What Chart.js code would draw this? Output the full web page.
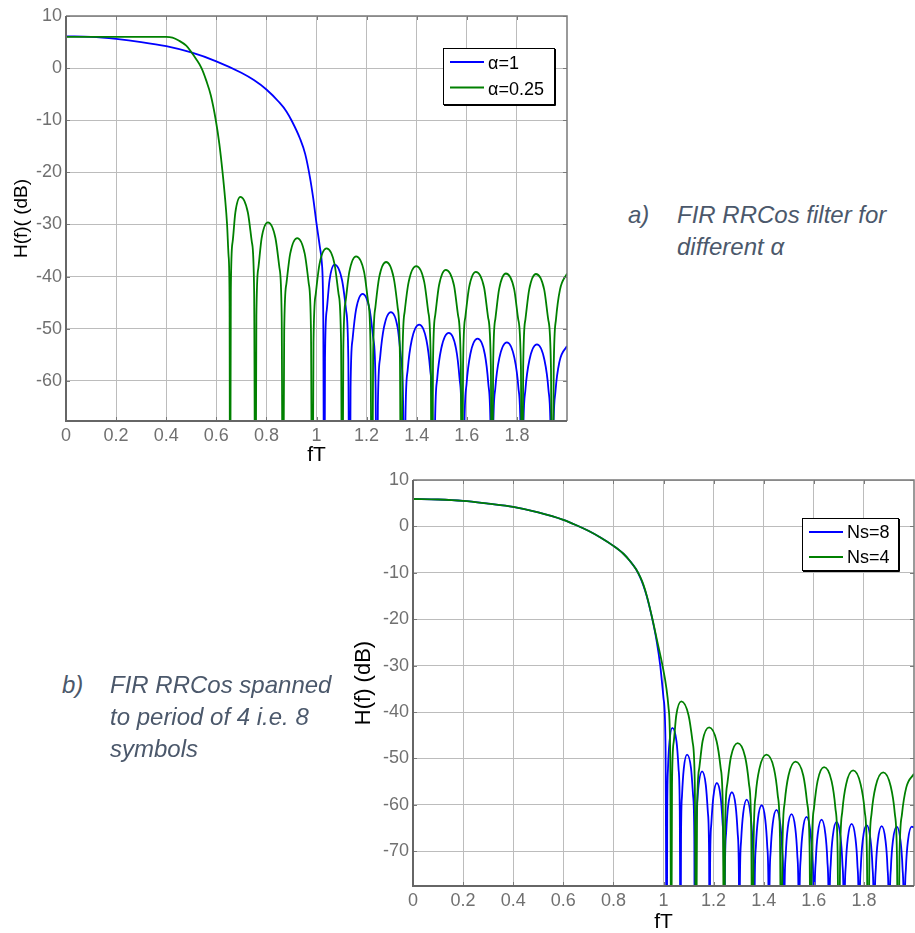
<!DOCTYPE html>
<html>
<head>
<meta charset="utf-8">
<script src="https://cdn.jsdelivr.net/npm/chart.js@4.4.1/dist/chart.umd.min.js"></script>
<style>
body { margin:0; background:#fff; width:915px; height:933px; position:relative; overflow:hidden; font-family:"Liberation Sans", Arial, sans-serif; }
canvas { position:absolute; }
#c1 { left:0; top:0; }
#c2 { left:330px; top:460px; }
.cap { position:absolute; font-style:italic; font-size:24px; line-height:32px; color:#4b586b; white-space:nowrap; }
</style>
</head>
<body>
<canvas id="c1" width="580" height="470"></canvas>
<canvas id="c2" width="585" height="473"></canvas>
<div class="cap" style="left:628px; top:199px">a)</div>
<div class="cap" style="left:677px; top:199px">FIR RRCos filter for<br>different α</div>
<div class="cap" style="left:62px; top:669px">b)</div>
<div class="cap" style="left:110px; top:669px">FIR RRCos spanned<br>to period of 4 i.e. 8<br>symbols</div>
<script>
// tick values
var xTicks = [0, 0.2, 0.4, 0.6, 0.8, 1, 1.2, 1.4, 1.6, 1.8];
var yTicksA = [10, 0, -10, -20, -30, -40, -50, -60];
var yTicksB = [10, 0, -10, -20, -30, -40, -50, -60, -70];
var namesA = ['α=1', 'α=0.25'];
var namesB = ['Ns=8', 'Ns=4'];

// [fT, dB], -100 = null (below the axis)
var alpha1 = [
  [0,6.1],[0.1,6.0],[0.2,5.6],[0.3,5.0],[0.4,4.2],[0.5,3.0],[0.6,1.3],[0.7,-0.9],[0.75,-2.3],[0.8,-4.1],
  [0.85,-6.5],[0.88,-8.3],[0.9,-10.0],[0.934,-13.5],[0.955,-16.5],[0.974,-21],[0.987,-25],[1.0,-29.8],
  [1.014,-34.5],[1.021,-37.2],[1.027,-48],[1.031,-100],
  [1.034,-55.7],[1.041,-46.4],[1.052,-40.7],[1.072,-37.7],[1.102,-40.7],[1.118,-46.4],[1.127,-55.7],[1.132,-100],
  [1.136,-61.3],[1.144,-52],[1.158,-46.3],[1.184,-43.3],[1.212,-46.3],[1.227,-52],[1.236,-61.3],[1.24,-100],
  [1.245,-64.8],[1.254,-55.5],[1.269,-49.8],[1.297,-46.8],[1.324,-49.8],[1.337,-55.5],[1.346,-64.8],[1.35,-100],
  [1.355,-67.2],[1.364,-57.9],[1.38,-52.2],[1.41,-49.2],[1.439,-52.2],[1.454,-57.9],[1.463,-67.2],[1.468,-100],
  [1.473,-68.8],[1.482,-59.5],[1.498,-53.8],[1.528,-50.8],[1.557,-53.8],[1.571,-59.5],[1.58,-68.8],[1.585,-100],
  [1.59,-69.9],[1.599,-60.6],[1.614,-54.9],[1.643,-51.9],[1.672,-54.9],[1.686,-60.6],[1.695,-69.9],[1.7,-100],
  [1.705,-70.6],[1.714,-61.3],[1.73,-55.6],[1.76,-52.6],[1.79,-55.6],[1.806,-61.3],[1.815,-70.6],[1.82,-100],
  [1.825,-71],[1.834,-61.7],[1.85,-56],[1.88,-53],[1.91,-56],[1.926,-61.7],[1.935,-71],[1.94,-100],
  [1.945,-71.3],[1.954,-62],[1.97,-56.3],[2.0,-53.3]
];
var alpha025 = [
  [0,6.0],[0.1,6.0],[0.2,6.0],[0.3,6.0],[0.4,6.0],[0.425,5.85],[0.45,5.3],[0.48,4.3],[0.5,3.1],[0.52,1.7],
  [0.541,0],[0.56,-2.4],[0.578,-5.2],[0.598,-10],[0.612,-14.5],[0.625,-20],[0.635,-25],[0.643,-30],
  [0.649,-36],[0.653,-45],[0.655,-100],
  [0.658,-42.7],[0.665,-33.4],[0.676,-27.7],[0.696,-24.7],[0.726,-27.7],[0.742,-33.4],[0.751,-42.7],[0.756,-100],
  [0.76,-47.6],[0.768,-38.3],[0.781,-32.6],[0.806,-29.6],[0.836,-32.6],[0.852,-38.3],[0.861,-47.6],[0.866,-100],
  [0.871,-50.6],[0.88,-41.3],[0.895,-35.6],[0.923,-32.6],[0.953,-35.6],[0.969,-41.3],[0.978,-50.6],[0.983,-100],
  [0.988,-52.6],[0.997,-43.3],[1.012,-37.6],[1.04,-34.6],[1.072,-37.6],[1.088,-43.3],[1.098,-52.6],[1.103,-100],
  [1.107,-54.1],[1.116,-44.8],[1.131,-39.1],[1.158,-36.1],[1.19,-39.1],[1.206,-44.8],[1.216,-54.1],[1.221,-100],
  [1.226,-55.2],[1.235,-45.9],[1.25,-40.2],[1.278,-37.2],[1.308,-40.2],[1.324,-45.9],[1.333,-55.2],[1.338,-100],
  [1.343,-56],[1.352,-46.7],[1.368,-41],[1.398,-38],[1.43,-41],[1.446,-46.7],[1.456,-56],[1.461,-100],
  [1.465,-56.7],[1.474,-47.4],[1.489,-41.7],[1.516,-38.7],[1.549,-41.7],[1.565,-47.4],[1.576,-56.7],[1.581,-100],
  [1.585,-57.1],[1.594,-47.8],[1.609,-42.1],[1.636,-39.1],[1.669,-42.1],[1.685,-47.8],[1.696,-57.1],[1.701,-100],
  [1.705,-57.4],[1.714,-48.1],[1.729,-42.4],[1.756,-39.4],[1.789,-42.4],[1.805,-48.1],[1.816,-57.4],[1.821,-100],
  [1.825,-57.5],[1.834,-48.2],[1.849,-42.5],[1.876,-39.5],[1.909,-42.5],[1.925,-48.2],[1.936,-57.5],[1.941,-100],
  [1.947,-57.5],[1.956,-48.2],[1.972,-42.5],[2.0,-39.4]
];
var ns8 = [
  [0,5.9],[0.1,5.8],[0.2,5.5],[0.3,4.9],[0.4,4.2],[0.5,3.0],[0.6,1.4],[0.65,0.3],[0.7,-0.95],[0.75,-2.45],
  [0.8,-4.2],[0.84,-5.9],[0.867,-7.5],[0.89,-9.2],[0.907,-11.0],[0.92,-12.8],[0.933,-15.0],[0.953,-19.4],
  [0.972,-24.5],[0.987,-30],[1.0,-37],[1.008,-47],[1.013,-100],
  [1.015,-61.4],[1.018,-52.1],[1.024,-46.4],[1.035,-43.4],[1.052,-46.4],[1.06,-52.1],[1.065,-61.4],[1.068,-100],
  [1.07,-67.2],[1.074,-57.9],[1.081,-52.2],[1.094,-49.2],[1.11,-52.2],[1.118,-57.9],[1.123,-67.2],[1.125,-100],
  [1.127,-70.8],[1.132,-61.5],[1.14,-55.8],[1.154,-52.8],[1.169,-55.8],[1.177,-61.5],[1.182,-70.8],[1.184,-100],
  [1.186,-73.3],[1.191,-64],[1.199,-58.3],[1.213,-55.3],[1.228,-58.3],[1.236,-64],[1.241,-73.3],[1.243,-100],
  [1.245,-75.3],[1.25,-66],[1.258,-60.3],[1.273,-57.3],[1.288,-60.3],[1.296,-66],[1.301,-75.3],[1.303,-100],
  [1.305,-76.9],[1.31,-67.6],[1.318,-61.9],[1.332,-58.9],[1.347,-61.9],[1.355,-67.6],[1.36,-76.9],[1.362,-100],
  [1.364,-78.1],[1.369,-68.8],[1.377,-63.1],[1.392,-60.1],[1.406,-63.1],[1.414,-68.8],[1.419,-78.1],[1.421,-100],
  [1.423,-79.1],[1.428,-69.8],[1.436,-64.1],[1.451,-61.1],[1.466,-64.1],[1.474,-69.8],[1.479,-79.1],[1.481,-100],
  [1.483,-80],[1.488,-70.7],[1.496,-65],[1.511,-62],[1.526,-65],[1.534,-70.7],[1.539,-80],[1.541,-100],
  [1.543,-80.6],[1.548,-71.3],[1.556,-65.6],[1.571,-62.6],[1.586,-65.6],[1.594,-71.3],[1.599,-80.6],[1.601,-100],
  [1.603,-81.2],[1.608,-71.9],[1.616,-66.2],[1.631,-63.2],[1.646,-66.2],[1.654,-71.9],[1.659,-81.2],[1.661,-100],
  [1.663,-81.7],[1.668,-72.4],[1.676,-66.7],[1.691,-63.7],[1.706,-66.7],[1.714,-72.4],[1.719,-81.7],[1.721,-100],
  [1.723,-82.1],[1.728,-72.8],[1.736,-67.1],[1.751,-64.1],[1.766,-67.1],[1.774,-72.8],[1.779,-82.1],[1.781,-100],
  [1.783,-82.4],[1.788,-73.1],[1.796,-67.4],[1.811,-64.4],[1.826,-67.4],[1.834,-73.1],[1.839,-82.4],[1.841,-100],
  [1.843,-82.6],[1.848,-73.3],[1.856,-67.6],[1.871,-64.6],[1.886,-67.6],[1.894,-73.3],[1.899,-82.6],[1.901,-100],
  [1.903,-82.7],[1.908,-73.4],[1.916,-67.7],[1.931,-64.7],[1.946,-67.7],[1.954,-73.4],[1.959,-82.7],[1.961,-100],
  [1.963,-82.7],[1.968,-73.4],[1.976,-67.7],[1.991,-64.7],[2.0,-64.9]
];
var ns4 = [
  [0,5.9],[0.1,5.8],[0.2,5.5],[0.3,4.9],[0.4,4.2],[0.5,3.0],[0.6,1.4],[0.65,0.3],[0.7,-0.95],[0.75,-2.45],
  [0.8,-4.2],[0.84,-5.9],[0.867,-7.5],[0.89,-9.2],[0.907,-10.9],[0.92,-12.6],[0.935,-15.3],[0.956,-20],
  [0.976,-25],[0.996,-30],[1.012,-35],[1.02,-39],[1.027,-50],[1.031,-100],
  [1.034,-55.7],[1.041,-46.4],[1.051,-40.7],[1.071,-37.7],[1.1,-40.7],[1.116,-46.4],[1.125,-55.7],[1.13,-100],
  [1.134,-61.3],[1.143,-52],[1.156,-46.3],[1.182,-43.3],[1.212,-46.3],[1.228,-52],[1.237,-61.3],[1.242,-100],
  [1.246,-64.7],[1.255,-55.4],[1.269,-49.7],[1.296,-46.7],[1.326,-49.7],[1.341,-55.4],[1.35,-64.7],[1.355,-100],
  [1.36,-67.2],[1.368,-57.9],[1.383,-52.2],[1.411,-49.2],[1.441,-52.2],[1.456,-57.9],[1.465,-67.2],[1.47,-100],
  [1.475,-68.7],[1.484,-59.4],[1.499,-53.7],[1.527,-50.7],[1.558,-53.7],[1.573,-59.4],[1.583,-68.7],[1.588,-100],
  [1.592,-69.9],[1.601,-60.6],[1.615,-54.9],[1.641,-51.9],[1.671,-54.9],[1.686,-60.6],[1.695,-69.9],[1.7,-100],
  [1.705,-70.6],[1.714,-61.3],[1.729,-55.6],[1.757,-52.6],[1.787,-55.6],[1.803,-61.3],[1.812,-70.6],[1.817,-100],
  [1.822,-71],[1.831,-61.7],[1.847,-56],[1.877,-53],[1.907,-56],[1.923,-61.7],[1.932,-71],[1.937,-100],
  [1.942,-71.3],[1.952,-62],[1.969,-56.3],[2.0,-53.3]
];

var BLUE = '#0000ff', GREEN = '#008000';
var FONT = '"Liberation Sans", Arial, sans-serif';

// box, inward ticks and legend like the matlab figure
var frame = {
  id: 'frame',
  afterDatasetsDraw: function(chart, args, L) {
    var ctx = chart.ctx, a = chart.chartArea, x = chart.scales.x, y = chart.scales.y;
    ctx.save();
    ctx.strokeStyle = '#7a7a7a';
    ctx.lineWidth = 1;
    ctx.beginPath();
    x.ticks.forEach(function(t) {
      var px = Math.round(x.getPixelForValue(t.value)) + 0.5;
      ctx.moveTo(px, a.bottom); ctx.lineTo(px, a.bottom - 4);
      ctx.moveTo(px, a.top); ctx.lineTo(px, a.top + 4);
    });
    y.ticks.forEach(function(t) {
      var py = Math.round(y.getPixelForValue(t.value)) + 0.5;
      ctx.moveTo(a.left, py); ctx.lineTo(a.left + 4, py);
      ctx.moveTo(a.right, py); ctx.lineTo(a.right - 4, py);
    });
    ctx.stroke();

    ctx.lineWidth = 1.5;
    ctx.beginPath();
    ctx.moveTo(a.left, a.top); ctx.lineTo(a.right, a.top); ctx.lineTo(a.right, a.bottom);
    ctx.stroke();
    ctx.lineWidth = 2;
    ctx.strokeStyle = '#666';
    ctx.beginPath();
    ctx.moveTo(a.left, a.top); ctx.lineTo(a.left, a.bottom); ctx.lineTo(a.right, a.bottom);
    ctx.stroke();

    var bx = Math.round(a.right - L.right - L.w), by = Math.round(a.top + L.top);
    ctx.fillStyle = '#fff';
    ctx.fillRect(bx, by, L.w, L.h);
    ctx.strokeStyle = '#000';
    ctx.lineWidth = 1;
    ctx.strokeRect(bx + 0.5, by + 0.5, L.w, L.h);
    ctx.beginPath();
    ctx.moveTo(bx + L.w + 1.5, by + 1); ctx.lineTo(bx + L.w + 1.5, by + L.h + 1.5); ctx.lineTo(bx + 1, by + L.h + 1.5);
    ctx.stroke();
    ctx.font = '18px ' + FONT;
    ctx.textBaseline = 'middle';
    ctx.textAlign = 'left';
    chart.data.datasets.forEach(function(ds, i) {
      var ry = by + L.row0 + i * L.gap;
      ctx.strokeStyle = ds.borderColor;
      ctx.lineWidth = 2;
      ctx.beginPath(); ctx.moveTo(bx + 7, ry); ctx.lineTo(bx + 41, ry); ctx.stroke();
      ctx.fillStyle = '#000';
      ctx.fillText(ds.label, bx + 45, ry + L.dy);
    });
    ctx.restore();
  }
};

function fmt(v) { return String(+v.toFixed(2)); }

function makeChart(id, sets, names, yTicks, yMin, lay) {
  return new Chart(document.getElementById(id), {
    type: 'line',
    data: {
      datasets: sets.map(function(s, i) {
        return {
          label: names[i],
          data: s.map(function(p) { return {x: p[0], y: p[1]}; }),
          borderColor: [BLUE, GREEN][i],
          borderWidth: 1.8,
          pointRadius: 0,
          fill: false,
          order: 1 - i,
          cubicInterpolationMode: 'monotone'
        };
      })
    },
    options: {
      responsive: false,
      animation: false,
      events: [],
      layout: { padding: lay.padding },
      plugins: { legend: { display: false }, tooltip: { enabled: false }, frame: lay.legend },
      scales: {
        x: {
          type: 'linear', min: 0, max: 2,
          afterBuildTicks: function(ax) { ax.ticks = xTicks.map(function(v) { return {value: v}; }); },
          afterFit: function(ax) { ax.height = lay.xh; },
          grid: { color: '#bcbcbc', lineWidth: 1, drawTicks: false },
          border: { display: false },
          ticks: { padding: 4, color: '#707070', font: { family: FONT, size: 18 }, maxRotation: 0, callback: fmt },
          title: { display: true, text: 'fT', color: '#000', font: { family: FONT, size: 21, lineHeight: 1 }, padding: { top: 0, bottom: lay.xtPad } }
        },
        y: {
          type: 'linear', min: yMin, max: 10,
          afterBuildTicks: function(ax) { ax.ticks = yTicks.map(function(v) { return {value: v}; }); },
          afterFit: function(ax) { ax.width = lay.yw; },
          grid: { color: '#bcbcbc', lineWidth: 1, drawTicks: false },
          border: { display: false },
          ticks: { padding: 4, color: '#707070', font: { family: FONT, size: 18 }, callback: fmt },
          title: { display: true, text: lay.yTitle, color: '#000', font: { family: FONT, size: lay.ytSize, lineHeight: 1 }, padding: { top: lay.ytPad, bottom: 0 } }
        }
      }
    },
    plugins: [frame]
  });
}

makeChart('c1', [alpha1, alpha025], namesA, yTicksA, -67.7, {
  padding: { left: 0, top: 16, right: 13, bottom: 0 },
  yw: 66, xh: 49, xtPad: 4.5, yTitle: 'H(f)( (dB)', ytSize: 19, ytPad: 12.5,
  legend: { right: 13, top: 31.7, w: 111, h: 56, row0: 14, gap: 25.6, dy: 2.5 }
});

makeChart('c2', [ns8, ns4], namesB, yTicksB, -77.5, {
  padding: { left: 0, top: 20, right: 1, bottom: 0 },
  yw: 83, xh: 47, xtPad: 0.5, yTitle: 'H(f) (dB)', ytSize: 22, ytPad: 23,
  legend: { right: 16, top: 37.7, w: 96, h: 52, row0: 14, gap: 25, dy: 1.3 }
});
</script>
</body>
</html>
